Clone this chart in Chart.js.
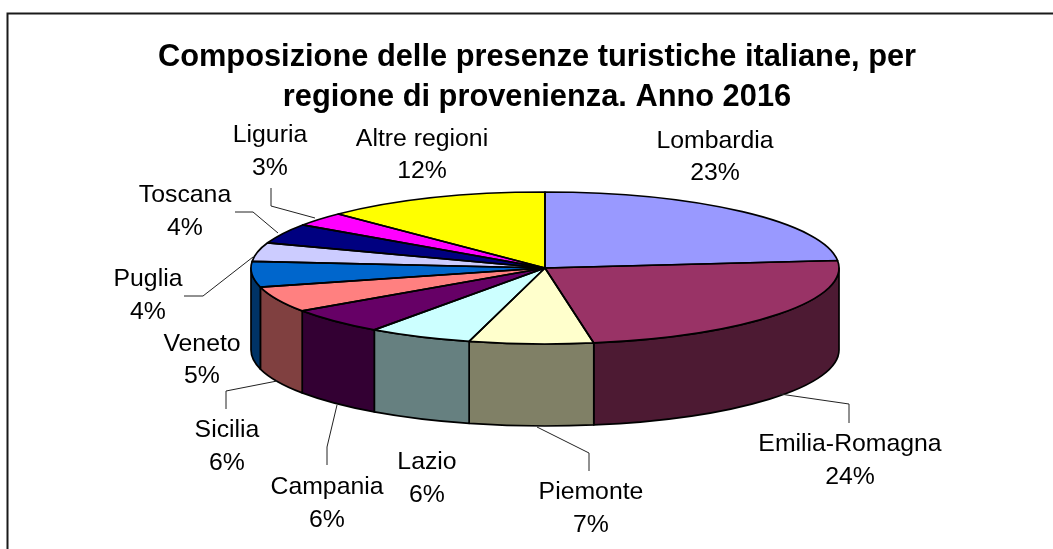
<!DOCTYPE html>
<html lang="it">
<head>
<meta charset="utf-8">
<title>Composizione delle presenze turistiche italiane</title>
<style>html,body{margin:0;padding:0;background:#fff}canvas{display:block}</style>
<script src="https://cdn.jsdelivr.net/npm/chart.js@4"></script>
</head>
<body>
<canvas id="c" width="1053" height="549"></canvas>
<script>
const titleLines = ['Composizione delle presenze turistiche italiane, per', 'regione di provenienza. Anno 2016'];
const regions = ['Lombardia','Emilia-Romagna','Piemonte','Lazio','Campania','Sicilia','Veneto','Puglia','Toscana','Liguria','Altre regioni'];
const shares = [23.4,23.9,6.8,5.7,5.6,5.5,5.4,4.0,4.2,3.0,12.4];
const percentLabels = ['23%','24%','7%','6%','6%','6%','5%','4%','4%','3%','12%'];
const topColors = ['#9999FF','#993366','#FFFFCC','#CCFFFF','#660066','#FF8080','#0066CC','#CCCCFF','#000080','#FF00FF','#FFFF00'];

// Projection of the flat pie on to the tilted disc
const view = {cx:545, cy:268, rx:294, ry:76, depth:82, wallShade:0.5};
// Label layout (centre x, first line y, second line y), in region order
const labelAnchors = [[715,141,173],[850,444,477],[591,492,525],[427,462,495],[327,487,520],[227,430,463],[202,344,376],[148,279,312],[185,195,228],[270,135,168],[422,139,171]];
const leaderPaths = [
  [[780,394],[849,404],[849,423]],
  [[537,427],[589,453],[589,471]],
  [[337,405],[327,447],[327,465]],
  [[277,381],[226,391],[226,409]],
  [[253,257],[203,296],[184,296]],
  [[278,233],[253,212],[235,212]],
  [[315,218],[271,206],[271,188]]
];
const labelFont = '24.8px "Liberation Sans", Arial, sans-serif';

function shade(hex, k){
  const n = parseInt(hex.slice(1),16);
  const c = [n>>16&255, n>>8&255, n&255].map(v=>Math.round(v*k));
  return `rgb(${c[0]},${c[1]},${c[2]})`;
}

const tiltedPie = {
  id:'tiltedPie',
  beforeDraw(chart){
    const {ctx} = chart;
    ctx.save();
    ctx.fillStyle = '#fff';
    ctx.fillRect(0,0,chart.width,chart.height);
    ctx.strokeStyle = '#1a1a1a';
    ctx.lineWidth = 2;
    ctx.beginPath();
    ctx.moveTo(7.5,549);
    ctx.lineTo(7.5,13.5);
    ctx.lineTo(1053,13.5);
    ctx.stroke();
    ctx.restore();
  },
  beforeDatasetsDraw(chart){
    const {ctx} = chart;
    const arcs = chart.getDatasetMeta(0).data;
    ctx.save();
    ctx.strokeStyle = '#000';
    ctx.lineWidth = 1.7;
    ctx.lineJoin = 'round';
    arcs.forEach((arc,i)=>{
      const a0 = Math.max(arc.startAngle,0), a1 = Math.min(arc.endAngle,Math.PI);
      if (a1 <= a0) return;
      ctx.beginPath();
      ctx.ellipse(view.cx,view.cy,view.rx,view.ry,0,a0,a1);
      ctx.ellipse(view.cx,view.cy+view.depth,view.rx,view.ry,0,a1,a0,true);
      ctx.closePath();
      ctx.fillStyle = shade(topColors[i],view.wallShade);
      ctx.fill();
      ctx.stroke();
    });
    ctx.restore();
    const c = arcs[0];
    ctx.save();
    ctx.translate(view.cx,view.cy);
    ctx.scale(view.rx/c.outerRadius,view.ry/c.outerRadius);
    ctx.translate(-c.x,-c.y);
  },
  afterDatasetsDraw(chart){
    const {ctx} = chart;
    ctx.restore();
    ctx.save();
    ctx.strokeStyle = '#000';
    ctx.lineWidth = 1.7;
    ctx.lineJoin = 'round';
    chart.getDatasetMeta(0).data.forEach(arc=>{
      ctx.beginPath();
      ctx.moveTo(view.cx,view.cy);
      ctx.ellipse(view.cx,view.cy,view.rx,view.ry,0,arc.startAngle,arc.endAngle);
      ctx.closePath();
      ctx.stroke();
    });
    ctx.restore();
  },
  afterDraw(chart){
    const {ctx} = chart;
    ctx.save();
    ctx.strokeStyle = '#222';
    ctx.lineWidth = 1;
    leaderPaths.forEach(p=>{
      ctx.beginPath();
      p.forEach(([x,y],i)=> i ? ctx.lineTo(x,y) : ctx.moveTo(x,y));
      ctx.stroke();
    });
    ctx.fillStyle = '#000';
    ctx.font = labelFont;
    ctx.textAlign = 'center';
    ctx.textBaseline = 'middle';
    regions.forEach((name,i)=>{
      const [x,y1,y2] = labelAnchors[i];
      ctx.fillText(name,x,y1);
      ctx.fillText(percentLabels[i],x,y2);
    });
    ctx.restore();
  }
};

new Chart(document.getElementById('c'),{
  type:'pie',
  data:{labels:regions,datasets:[{data:shares,backgroundColor:topColors,borderWidth:0,clip:false}]},
  options:{
    responsive:false,
    animation:false,
    radius:294,
    rotation:0,
    events:[],
    layout:{padding:{left:21}},
    plugins:{
      legend:{display:false},
      tooltip:{enabled:false},
      title:{
        display:true,
        text:titleLines,
        color:'#000',
        align:'center',
        font:{family:'"Liberation Sans", Arial, sans-serif',size:30.8,weight:'bold',lineHeight:1.3},
        padding:{top:37,bottom:10}
      }
    }
  },
  plugins:[tiltedPie]
});
</script>
</body>
</html>
